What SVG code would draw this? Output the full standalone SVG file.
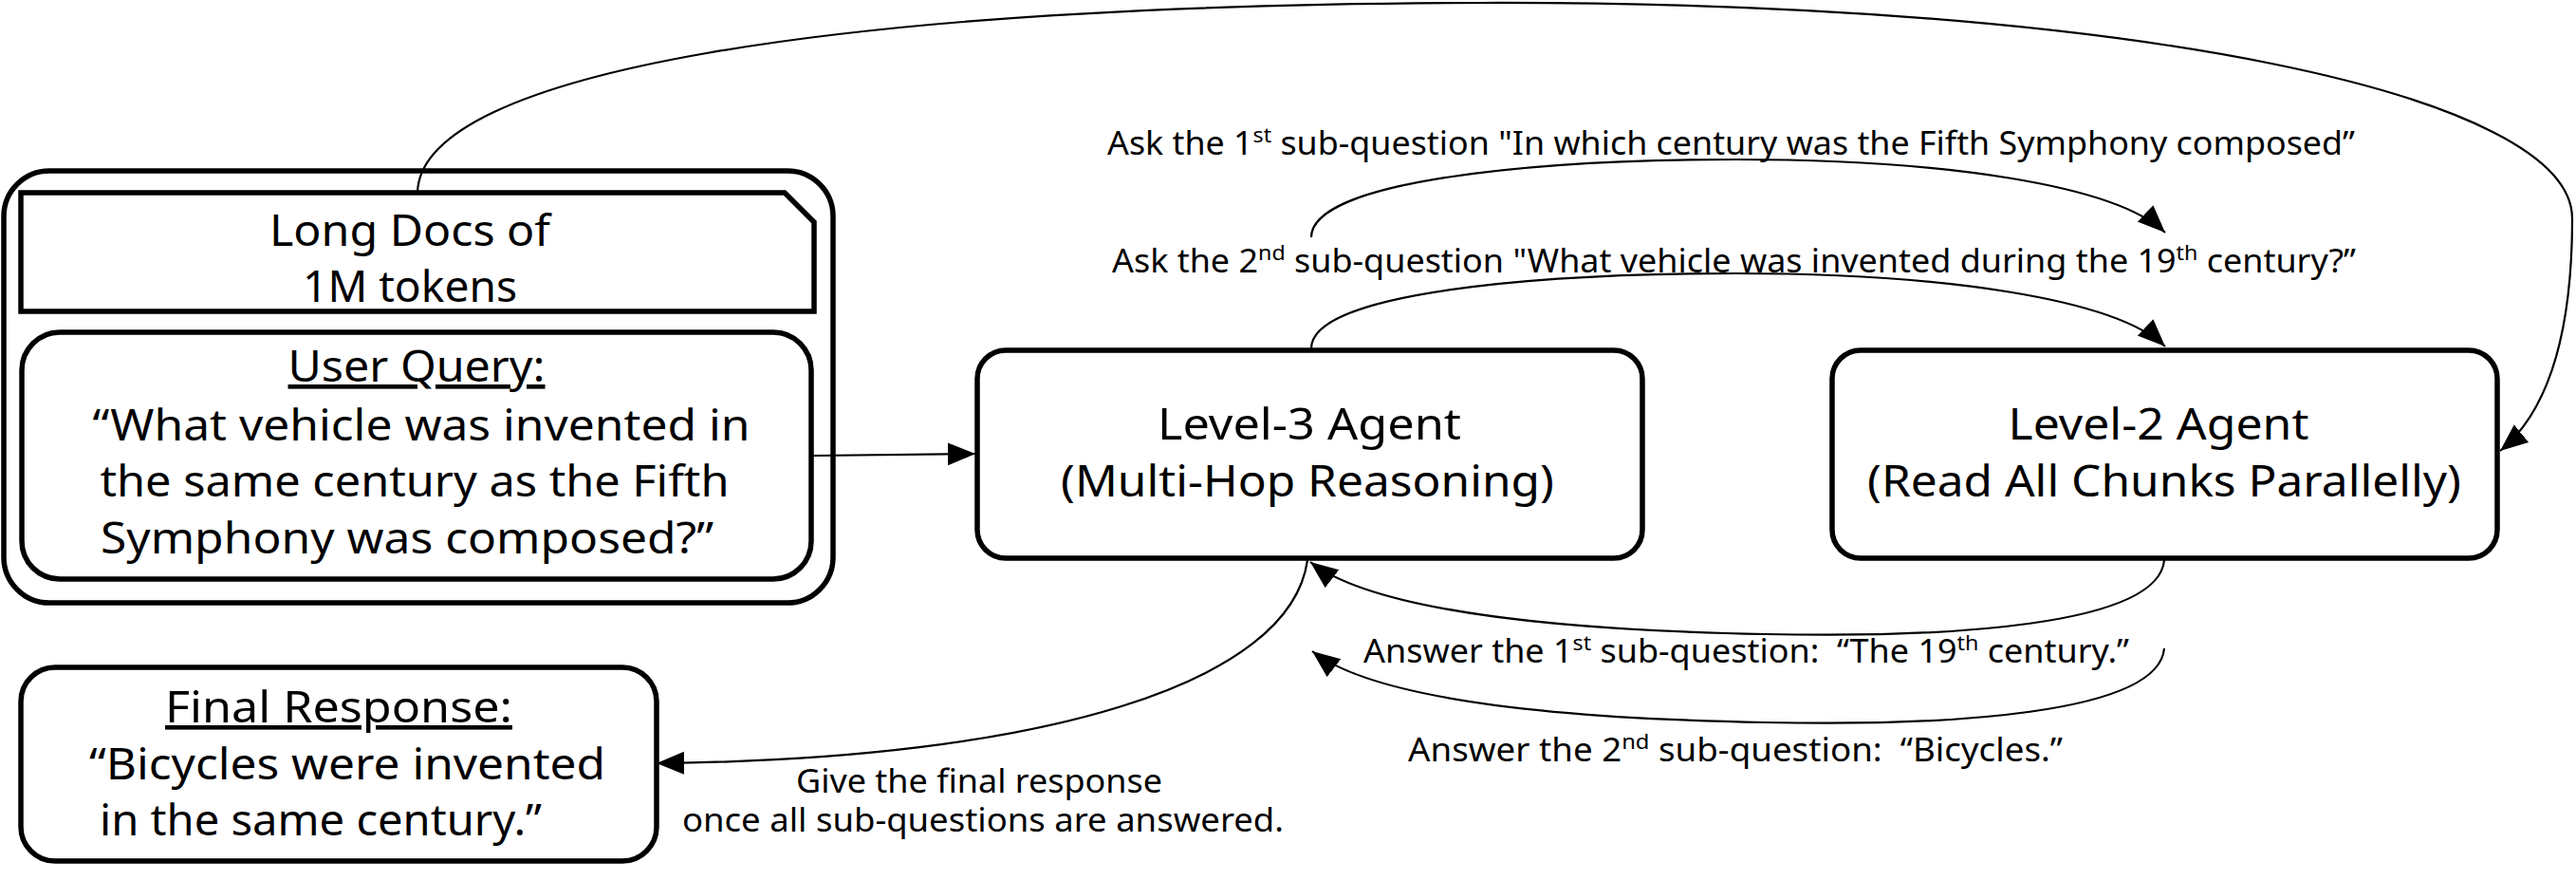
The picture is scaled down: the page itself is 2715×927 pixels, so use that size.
<svg xmlns="http://www.w3.org/2000/svg" width="2715" height="927" viewBox="0 0 2715 927">
<style>
.box{fill:#fff;stroke:#000;stroke-width:5.5}
.t{font-family:"Noto Sans","Liberation Sans",sans-serif;font-size:46px;fill:#000;text-anchor:middle}
.l{font-family:"Noto Sans","Liberation Sans",sans-serif;font-size:34px;fill:#000}
.lm{text-anchor:middle}
.e{fill:none;stroke:#000;stroke-width:2.2}
.u{text-decoration:underline}
</style>
<defs>
<marker id="ah" markerUnits="userSpaceOnUse" markerWidth="32" markerHeight="26" refX="29" refY="12" orient="auto">
<path d="M0,0 L29,12 L0,24 Z" fill="#000"/>
</marker>
</defs>
<rect width="2715" height="927" fill="#fff"/>
<g id="input">
<rect class="box" x="4" y="180" width="874" height="455" rx="48"/>
<g id="docs">
<path class="box" d="M22,203 L827,203 L858,234 L858,328 L22,328 Z"/>
<text class="t" x="432" y="259" textLength="296" lengthAdjust="spacingAndGlyphs">Long Docs of</text>
<text class="t" x="432" y="318" textLength="226" lengthAdjust="spacingAndGlyphs">1M tokens</text>
</g>
<g id="query">
<rect class="box" x="23" y="350" width="832" height="260" rx="40"/>
<text class="t u" x="439" y="402" textLength="271" lengthAdjust="spacingAndGlyphs">User Query:</text>
<text class="t" x="444" y="464" textLength="693" lengthAdjust="spacingAndGlyphs">“What vehicle was invented in</text>
<text class="t" x="437" y="523" textLength="663" lengthAdjust="spacingAndGlyphs">the same century as the Fifth</text>
<text class="t" x="429" y="583" textLength="646" lengthAdjust="spacingAndGlyphs">Symphony was composed?”</text>
</g>
</g>
<g id="final">
<rect class="box" x="22" y="703" width="670" height="204" rx="36"/>
<text class="t u" x="357" y="761" textLength="366" lengthAdjust="spacingAndGlyphs">Final Response:</text>
<text class="t" x="366" y="821" textLength="544" lengthAdjust="spacingAndGlyphs">“Bicycles were invented</text>
<text class="t" x="338" y="880" textLength="466" lengthAdjust="spacingAndGlyphs">in the same century.”</text>
</g>
<g id="level3">
<rect class="box" x="1030" y="369" width="701" height="219" rx="30"/>
<text class="t" x="1380" y="463" textLength="320" lengthAdjust="spacingAndGlyphs">Level-3 Agent</text>
<text class="t" x="1378" y="523" textLength="520" lengthAdjust="spacingAndGlyphs">(Multi-Hop Reasoning)</text>
</g>
<g id="level2">
<rect class="box" x="1931" y="369" width="701" height="219" rx="30"/>
<text class="t" x="2275" y="463" textLength="317" lengthAdjust="spacingAndGlyphs">Level-2 Agent</text>
<text class="t" x="2281" y="523" textLength="626" lengthAdjust="spacingAndGlyphs">(Read All Chunks Parallelly)</text>
</g>
<g id="connectors">
<path class="e" marker-end="url(#ah)" d="M857,480 L1028,478"/>
<path class="e" marker-end="url(#ah)" d="M440,203 C443,75 880,5 1560,3 C2250,1 2711,100 2711,230 C2711,340 2690,430 2635,475"/>
<path class="e" marker-end="url(#ah)" d="M1382,250 C1382,190 1620,168 1830,168 C2050,168 2230,195 2282,245"/>
<path class="e" marker-end="url(#ah)" d="M1382,367 C1382,308 1620,288 1830,288 C2050,288 2230,315 2282,365"/>
<path class="e" marker-end="url(#ah)" d="M2281,590 C2275,660 2050,672 1860,668 C1650,664 1450,645 1381,592"/>
<path class="e" marker-end="url(#ah)" d="M2281,683 C2275,753 2050,765 1860,761 C1650,757 1452,739 1383,686"/>
<path class="e" marker-end="url(#ah)" d="M1378,590 C1360,720 1100,800 692,804"/>
<text class="l" x="1167" y="163" textLength="1315" lengthAdjust="spacingAndGlyphs">Ask the 1<tspan font-size="22" dy="-13">st</tspan><tspan dy="13"> sub-question "In which century was the Fifth Symphony composed”</tspan></text>
<text class="l" x="1172" y="287" textLength="1311" lengthAdjust="spacingAndGlyphs">Ask the 2<tspan font-size="22" dy="-13">nd</tspan><tspan dy="13"> sub-question "What vehicle was invented during the 19</tspan><tspan font-size="22" dy="-13">th</tspan><tspan dy="13"> century?”</tspan></text>
<text class="l" x="1437" y="698" textLength="807" lengthAdjust="spacingAndGlyphs">Answer the 1<tspan font-size="22" dy="-13">st</tspan><tspan dy="13"> sub-question: &#160;“The 19</tspan><tspan font-size="22" dy="-13">th</tspan><tspan dy="13"> century.”</tspan></text>
<text class="l" x="1484" y="802" textLength="690" lengthAdjust="spacingAndGlyphs">Answer the 2<tspan font-size="22" dy="-13">nd</tspan><tspan dy="13"> sub-question: &#160;“Bicycles.”</tspan></text>
<text class="l lm" x="1032" y="835" textLength="386" lengthAdjust="spacingAndGlyphs">Give the final response</text>
<text class="l lm" x="1036" y="876" textLength="634" lengthAdjust="spacingAndGlyphs">once all sub-questions are answered.</text>
</g>
</svg>
